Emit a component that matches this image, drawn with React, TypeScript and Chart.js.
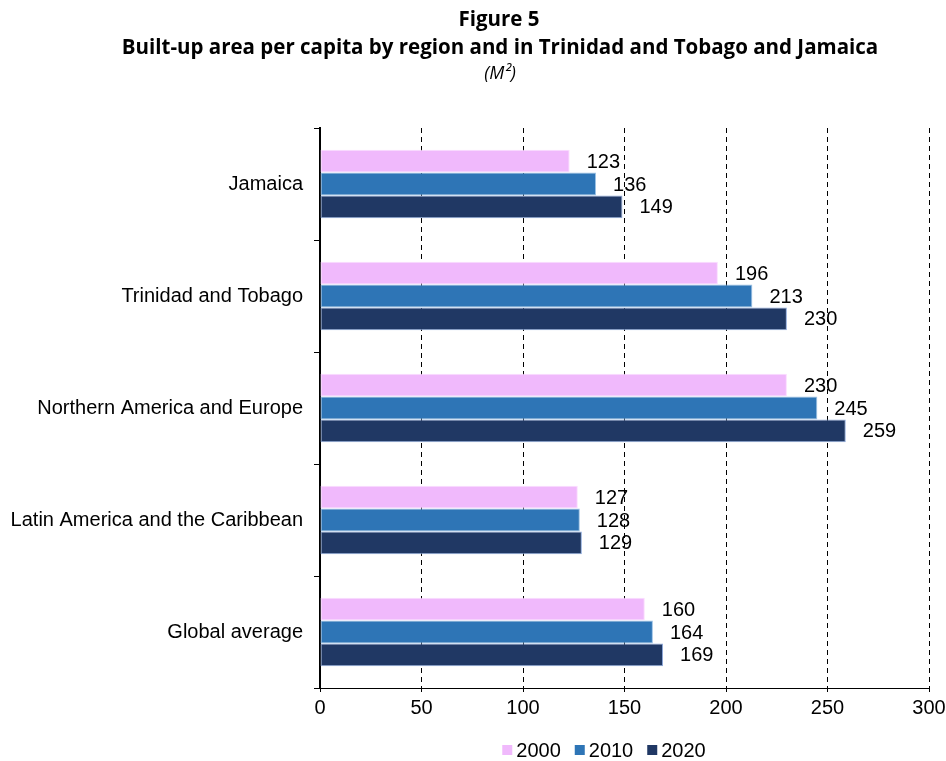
import React, { useEffect, useRef } from "react";
import { Chart, registerables } from "chart.js";

Chart.register(...registerables);

const categories = [
  "Jamaica",
  "Trinidad and Tobago",
  "Northern America and Europe",
  "Latin America and the Caribbean",
  "Global average",
];
const values2000 = [123, 196, 230, 127, 160];
const values2010 = [136, 213, 245, 128, 164];
const values2020 = [149, 230, 259, 129, 169];
const seriesLabels = ["2000", "2010", "2020"];
const xTicks = [0, 50, 100, 150, 200, 250, 300];

const titleLine1 = "Figure 5";
const titleLine2 = "Built-up area per capita by region and in Trinidad and Tobago and Jamaica";
const titleLine3 = "(M²)";

const COLORS = ["#F0B9FC", "#2E75B6", "#203864"];
const BORDERS = ["#FCDDFF", "#9DC3E6", "#8FAADC"];
const FAMILY = "'Liberation Sans', Arial, sans-serif";
const LABEL_FONT = "20px " + FAMILY;

export default function App() {
  const ref = useRef<HTMLCanvasElement | null>(null);

  useEffect(() => {
    if (!ref.current) return;

    const decorPlugin = {
      id: "decor",
      afterDatasetsDraw(chart: any) {
        const ctx = chart.ctx;
        ctx.save();
        ctx.fillStyle = "#000";
        ctx.font = LABEL_FONT;
        ctx.textAlign = "left";
        ctx.textBaseline = "middle";
        chart.data.datasets.forEach((ds: any, di: number) => {
          const meta = chart.getDatasetMeta(di);
          meta.data.forEach((bar: any, i: number) => {
            ctx.fillText(String(ds.data[i]), bar.x + 17, bar.y + 1);
          });
        });
        ctx.restore();
      },
      afterDraw(chart: any) {
        const ctx = chart.ctx;
        ctx.save();
        ctx.fillStyle = "#000";
        ctx.textAlign = "center";
        ctx.textBaseline = "middle";
        ctx.font = "bold 20.5px 'Open Sans', sans-serif";
        ctx.fillText(titleLine1, 499, 20);
        ctx.fillText(titleLine2, 500, 48);
        ctx.font = "italic 18px 'Open Sans', sans-serif";
        ctx.fillText(titleLine3, 500, 74);

        // legend
        ctx.font = LABEL_FONT;
        ctx.textAlign = "left";
        const sq = 10;
        const gap = 4;
        const itemGap = 14;
        const widths = seriesLabels.map((t) => sq + gap + ctx.measureText(t).width);
        const total = widths.reduce((a, b) => a + b, 0) + itemGap * (widths.length - 1);
        let x = 604 - total / 2;
        const y = 750;
        seriesLabels.forEach((t, i) => {
          ctx.fillStyle = COLORS[i];
          ctx.fillRect(x, y - sq / 2, sq, sq);
          ctx.fillStyle = "#000";
          ctx.fillText(t, x + sq + gap, y + 1);
          x += widths[i] + itemGap;
        });
        ctx.restore();
      },
    };

    const chart = new Chart(ref.current, {
      type: "bar",
      data: {
        labels: categories,
        datasets: [values2000, values2010, values2020].map((d, i) => ({
          label: seriesLabels[i],
          data: d,
          backgroundColor: COLORS[i],
          borderColor: BORDERS[i],
          borderWidth: 1,
          borderSkipped: false,
          categoryPercentage: 0.61,
          barPercentage: 1,
        })),
      },
      options: {
        indexAxis: "y",
        animation: false,
        responsive: false,
        maintainAspectRatio: false,
        layout: { padding: { top: 128, right: 17, bottom: 0, left: 0 } },
        plugins: {
          legend: { display: false },
          title: { display: false },
          tooltip: { enabled: false },
        },
        scales: {
          x: {
            min: 0,
            max: 300,
            afterBuildTicks(scale: any) {
              scale.ticks = xTicks.map((v) => ({ value: v }));
            },
            afterFit(scale: any) {
              scale.height = 73;
              scale.paddingRight = 0;
              scale.paddingLeft = 0;
            },
            grid: {
              color: "#000",
              lineWidth: 1,
              drawTicks: true,
              tickLength: 4,
            },
            border: { display: true, color: "#000", width: 1, dash: [5, 4] },
            ticks: {
              color: "#000",
              font: { family: FAMILY, size: 20 },
              padding: 4,
              maxRotation: 0,
            },
          },
          y: {
            afterFit(scale: any) {
              scale.width = 320;
            },
            grid: {
              offset: true,
              drawOnChartArea: false,
              drawTicks: true,
              tickLength: 6,
              color: "#000",
              lineWidth: 1,
            },
            border: { display: true, color: "#000", width: 2 },
            ticks: {
              color: "#000",
              font: { family: FAMILY, size: 20 },
              padding: 11,
            },
          },
        },
      },
      plugins: [decorPlugin],
    } as any);

    return () => chart.destroy();
  }, []);

  return (
    <div style={{ position: "fixed", left: 0, top: 0, width: 946, height: 761, background: "#fff" }}>
      <canvas ref={ref} width={946} height={761} style={{ width: 946, height: 761 }} />
    </div>
  );
}
